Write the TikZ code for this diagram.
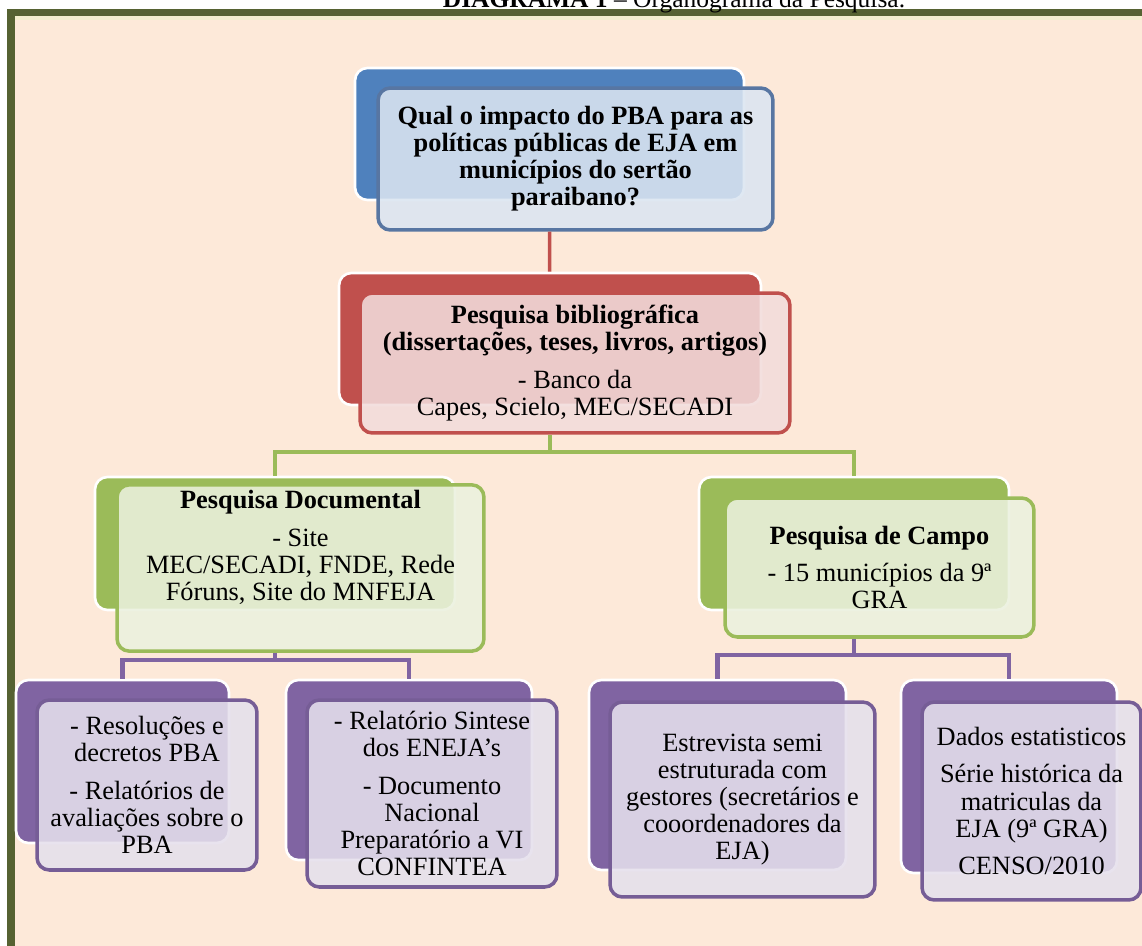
\documentclass[tikz,border=0pt]{standalone}
\usepackage{fontspec}
\setmainfont{Liberation Serif}
\definecolor{peach}{RGB}{253,233,217}
\definecolor{olive}{RGB}{86,98,50}
\definecolor{cream}{RGB}{243,238,205}
\definecolor{bluedark}{RGB}{79,129,189}
\definecolor{blueedge}{RGB}{88,118,162}
\definecolor{bluelight}{RGB}{219,229,241}
\definecolor{reddark}{RGB}{192,80,77}
\definecolor{redlight}{RGB}{242,220,219}
\definecolor{greendark}{RGB}{155,187,89}
\definecolor{greenlight}{RGB}{235,241,222}
\definecolor{purpledark}{RGB}{128,100,162}
\definecolor{purpleedge}{RGB}{118,93,150}
\definecolor{purplelight}{RGB}{229,224,236}
\tikzstyle{back} = [rectangle, rounded corners=7pt, draw=white, line width=1.5pt]
\tikzstyle{box} = [rectangle, rounded corners=7pt, line width=2pt, fill opacity=0.88, text opacity=1, align=center, font=\fontsize{15}{15.4}\selectfont]
\tikzstyle{blueback} = [back, fill=bluedark]
\tikzstyle{bluebox} = [box, draw=blueedge, fill=bluelight]
\tikzstyle{redback} = [back, fill=reddark]
\tikzstyle{redbox} = [box, draw=reddark, fill=redlight]
\tikzstyle{greenback} = [back, fill=greendark]
\tikzstyle{greenbox} = [box, draw=greendark, fill=greenlight]
\tikzstyle{purpleback} = [back, fill=purpledark]
\tikzstyle{purplebox} = [box, draw=purpleedge, fill=purplelight]
\tikzstyle{redline} = [reddark, line width=2pt]
\tikzstyle{greenline} = [greendark, line width=2.5pt]
\tikzstyle{purpleline} = [purpledark, line width=2.5pt]

\begin{document}
\begin{tikzpicture}[x=0.02cm, y=-0.02cm]
	\useasboundingbox (0,0) rectangle (1142,946);
	\fill [white] (0,0) rectangle (1142,946);
	\draw [olive, line width=4pt, fill=peach] (11,12.5) rectangle (1170,980);
	\fill [cream] (15,16.5) rectangle (1142,20);
	\node (title) [anchor=base, font=\fontsize{14.5}{17}\selectfont] at (674,7.5) {\textbf{DIAGRAMA 1} -- Organograma da Pesquisa.};
	% back shapes
	\node (b1) [blueback, minimum width=7.78cm, minimum height=2.64cm] at (549.5,134) {};
	\node (b2) [redback, minimum width=8.44cm, minimum height=2.64cm] at (550,339) {};
	\node (b3) [greenback, minimum width=7.2cm, minimum height=2.66cm] at (275,543.5) {};
	\node (b4) [greenback, minimum width=6.2cm, minimum height=2.66cm] at (854,543.5) {};
	\node (b5) [purpleback, minimum width=4.26cm, minimum height=3.26cm] at (122.5,761.5) {};
	\node (b6) [purpleback, minimum width=4.92cm, minimum height=3.6cm] at (409,770) {};
	\node (b7) [purpleback, minimum width=5.14cm, minimum height=3.8cm] at (717.5,775) {};
	\node (b8) [purpleback, minimum width=4.32cm, minimum height=3.86cm] at (1009,776.5) {};
	% front boxes
	\node (p1) [bluebox, font=\fontsize{15}{15.4}\selectfont\bfseries, minimum width=7.9cm, minimum height=2.84cm] at (575.5,159) {Qual o impacto do PBA para as\\políticas públicas de EJA em\\municípios do sertão\\paraibano?};
	\node (p2) [redbox, minimum width=8.6cm, minimum height=2.8cm] at (575,363) {\textbf{Pesquisa bibliográfica}\\\textbf{(dissertações, teses, livros, artigos)}\\[6pt]- Banco da\\Capes, Scielo, MEC/SECADI};
	\node (p3) [greenbox, minimum width=7.34cm, minimum height=2.8cm] at (300.5,568) {\textbf{Pesquisa Documental}\\[6pt]- Site\\MEC/SECADI, FNDE, Rede\\Fóruns, Site do MNFEJA\\[10pt]\mbox{}};
	\node (p4) [greenbox, minimum width=6.18cm, minimum height=2.78cm] at (879.5,567.5) {\textbf{Pesquisa de Campo}\\[6pt]- 15 municípios da 9ª\\GRA};
	\node (p5) [purplebox, minimum width=4.4cm, minimum height=3.4cm] at (147,785) {- Resoluções e\\decretos PBA\\[6pt]- Relatórios de\\avaliações sobre o\\PBA};
	\node (p6) [purplebox, minimum width=5cm, minimum height=3.74cm] at (432,793.5) {- Relatório Sintese\\dos ENEJA's\\[6pt]- Documento\\Nacional\\Preparatório a VI\\CONFINTEA};
	\node (p7) [purplebox, minimum width=5.3cm, minimum height=3.9cm] at (742.5,799.5) {Estrevista semi\\estruturada com\\gestores (secretários e\\cooordenadores da\\EJA)};
	\node (p8) [purplebox, minimum width=4.38cm, minimum height=3.96cm] at (1031.5,801) {Dados estatisticos\\[6pt]Série histórica da\\matriculas da\\EJA (9ª GRA)\\[6pt]CENSO/2010};
	\coordinate (g1) at (550,452);
	\coordinate (v1) at (275,660);
	\coordinate (v2) at (854,655);
\draw [redline] (b1 |- p1.south) -- (b2);
\draw [greenline] (b2 |- p2.south) -- (g1) -| (b3);
\draw [greenline] (g1) -| (b4);
\draw [purpleline] (b3 |- p3.south) -- (v1) -| (b5);
\draw [purpleline] (v1) -| (b6);
\draw [purpleline] (b4 |- p4.south) -- (v2) -| (b7);
\draw [purpleline] (v2) -| (b8);
\end{tikzpicture}
\end{document}
